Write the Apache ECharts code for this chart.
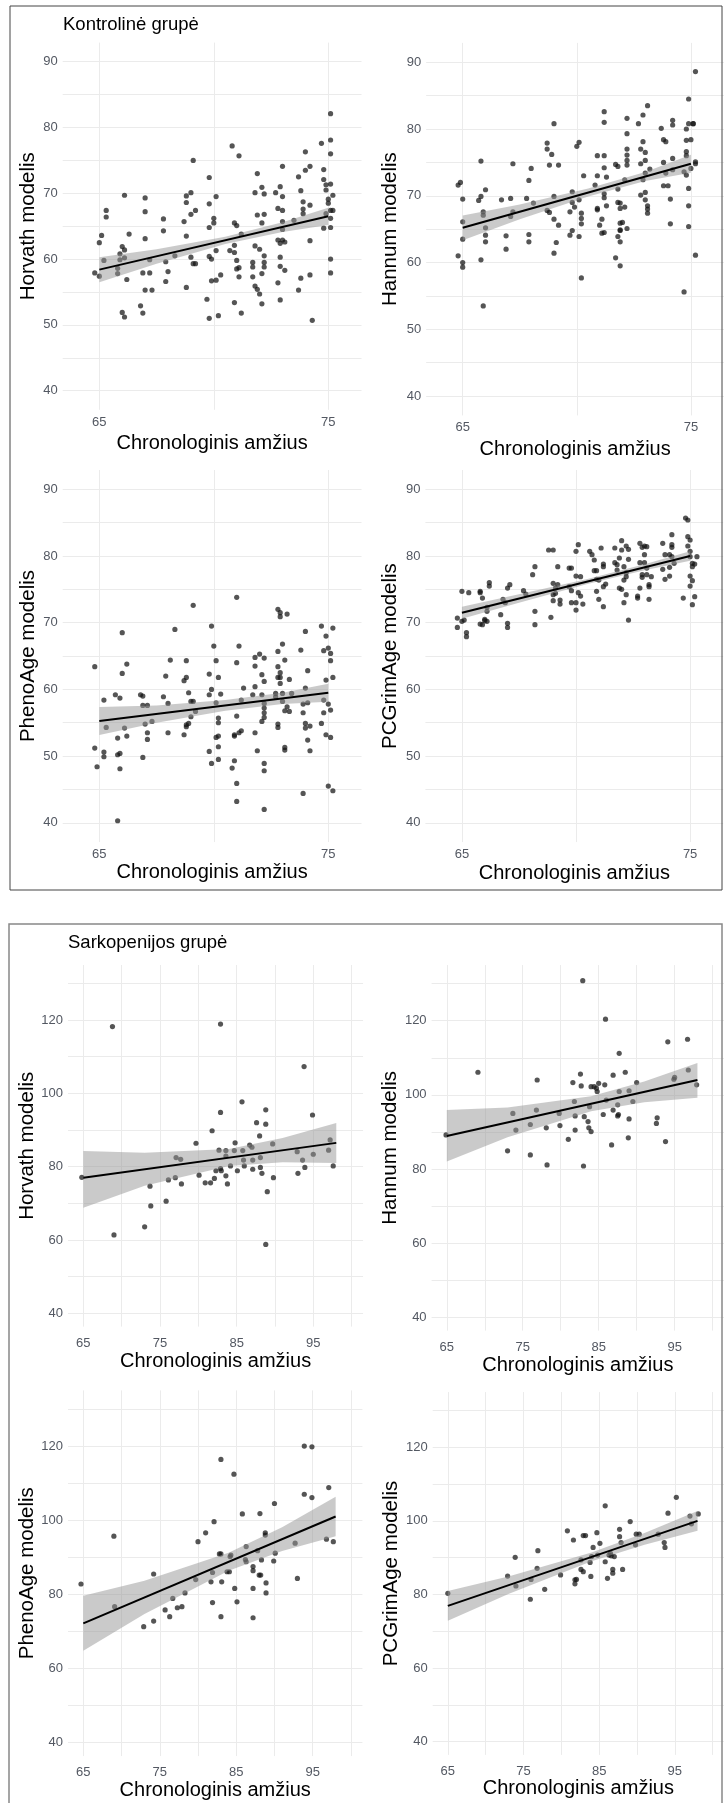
<!DOCTYPE html>
<html>
<head>
<meta charset="utf-8">
<script src="https://cdn.jsdelivr.net/npm/echarts@6/dist/echarts.min.js"></script>
<style>
html, body { margin: 0; padding: 0; background: #fff; }
#main { width: 724px; height: 1803px; }
</style>
</head>
<body>
<div id="main"></div>
<script>
// ---- Kontrolinė grupė: [amžius, modelio amžius] ----
var ctrlHorvath = [[64.8,57.9],[65.0,57.4],[65.1,63.6],[65.0,62.5],[65.3,67.4],[65.3,66.4],[65.2,59.8],[65.8,57.8],[65.8,58.6],[65.9,60.8],[65.9,59.9],[66.0,61.9],[66.1,61.4],[66.1,69.7],[66.1,60.2],[66.2,56.9],[66.3,63.8],[66.0,51.9],[66.1,51.2],[66.8,52.9],[66.9,51.8],[66.9,57.9],[67.2,57.9],[67.0,69.3],[67.0,67.2],[67.0,63.1],[67.0,55.3],[67.3,55.3],[67.2,59.9],[67.8,64.3],[67.8,66.1],[67.9,59.6],[68.0,58.1],[67.9,56.6],[68.3,60.5],[68.7,65.7],[68.8,63.5],[68.8,55.7],[68.8,69.6],[68.8,68.6],[69.0,70.1],[69.1,75.0],[69.0,66.8],[69.2,67.4],[69.0,60.3],[69.1,59.3],[69.2,59.3],[69.7,53.9],[69.8,68.4],[69.8,72.4],[69.8,64.8],[69.8,60.4],[69.9,60.0],[69.9,56.7],[69.8,51.0],[70.1,69.5],[70.0,65.5],[70.0,66.2],[70.1,61.3],[70.1,56.8],[70.2,51.4],[70.3,57.6],[70.8,77.2],[70.9,65.5],[70.7,61.3],[70.9,62.1],[70.9,61.0],[71.0,65.1],[71.1,75.7],[71.0,59.8],[71.0,58.5],[71.1,58.7],[70.9,53.4],[71.1,57.3],[71.2,51.8],[71.2,63.8],[71.8,70.1],[71.9,73.0],[71.9,66.7],[71.8,62.0],[72.0,61.5],[72.1,65.5],[72.1,70.9],[72.2,69.9],[72.2,66.8],[71.7,59.5],[71.7,58.8],[71.7,57.3],[71.8,55.9],[71.9,55.4],[72.0,54.7],[72.1,53.2],[72.1,57.8],[72.2,60.5],[72.2,58.8],[72.2,59.5],[72.7,70.1],[72.8,67.7],[72.9,71.0],[73.0,74.1],[73.0,69.5],[73.0,67.4],[72.8,62.9],[72.9,62.4],[73.0,62.9],[73.1,62.6],[73.0,65.7],[73.0,64.5],[72.9,60.3],[72.9,58.9],[73.1,58.3],[72.8,56.4],[72.9,53.8],[73.7,72.5],[73.8,70.4],[73.9,68.7],[73.9,67.6],[74.0,76.3],[74.0,73.5],[74.2,74.1],[74.2,68.2],[73.9,66.9],[74.2,62.8],[73.8,57.1],[73.7,55.3],[74.2,57.6],[74.3,50.7],[74.7,77.6],[74.8,73.6],[74.8,72.1],[74.9,71.3],[74.9,70.5],[75.1,82.1],[75.1,78.1],[75.1,76.0],[75.1,71.4],[75.0,69.1],[75.0,68.5],[75.2,69.7],[75.1,67.4],[75.2,67.4],[74.8,64.7],[74.9,66.9],[75.1,64.8],[75.1,66.2],[75.1,60.0],[75.1,57.9],[73.5,65.9]];
var ctrlHannum = [[64.8,61.0],[64.8,71.6],[64.9,72.0],[65.0,60.0],[65.0,59.3],[65.0,69.5],[65.0,66.1],[65.0,63.5],[65.8,75.2],[65.7,69.3],[65.8,69.9],[66.0,70.9],[65.9,67.6],[65.9,67.1],[66.0,65.2],[66.0,64.1],[66.0,63.1],[65.8,60.4],[65.9,53.5],[66.7,69.4],[66.9,64.0],[66.9,62.0],[67.1,69.6],[67.2,74.8],[67.1,66.9],[67.2,67.6],[67.8,69.6],[67.9,72.3],[68.0,74.1],[67.9,64.2],[67.9,63.1],[68.1,68.9],[68.7,77.9],[68.7,77.0],[68.9,76.2],[69.0,80.8],[68.8,74.6],[69.2,74.6],[68.7,67.8],[68.8,67.5],[69.0,69.9],[69.0,66.5],[69.2,65.6],[69.1,63.0],[69.0,61.4],[69.8,70.6],[69.8,69.0],[69.7,67.6],[69.9,68.3],[70.0,77.4],[70.1,78.0],[70.1,69.4],[70.3,73.0],[70.2,67.4],[70.2,66.6],[70.2,65.8],[69.7,64.1],[69.8,64.8],[70.1,63.9],[70.2,57.7],[70.8,71.6],[70.9,73.0],[70.9,76.0],[70.9,68.1],[70.9,67.9],[71.0,65.6],[71.1,66.5],[71.1,64.4],[71.2,64.5],[71.2,70.3],[71.2,69.7],[71.2,76.0],[71.2,74.2],[71.2,82.6],[71.2,81.0],[71.3,68.5],[71.3,72.8],[71.7,74.7],[71.8,74.4],[71.8,69.0],[71.9,68.9],[71.8,71.0],[71.9,68.1],[71.9,64.9],[71.9,64.8],[71.9,65.9],[71.8,63.9],[71.9,63.1],[71.7,60.7],[71.9,59.5],[72.0,66.0],[72.1,72.4],[72.2,81.6],[72.2,79.3],[72.2,77.0],[72.2,76.1],[72.2,75.3],[72.2,74.6],[72.1,68.3],[72.2,65.1],[72.7,80.8],[72.9,82.1],[72.9,78.1],[72.8,77.0],[73.0,76.5],[73.1,83.5],[72.8,74.8],[73.0,75.3],[72.8,70.1],[73.0,70.5],[73.0,73.4],[72.9,72.4],[73.0,69.4],[73.1,68.5],[73.1,68.0],[73.1,67.4],[73.2,74.0],[73.7,80.1],[73.8,78.4],[73.9,78.1],[73.8,75.0],[73.9,73.4],[73.8,71.5],[74.0,71.5],[74.1,69.5],[74.1,65.8],[74.2,81.3],[74.2,80.6],[74.2,75.6],[74.2,73.9],[74.7,55.6],[74.8,76.6],[74.8,76.0],[74.8,80.0],[74.9,80.8],[74.9,84.5],[74.8,78.3],[74.9,71.1],[74.9,68.5],[74.9,65.4],[74.8,73.1],[75.0,78.4],[75.1,80.8],[75.0,74.1],[75.1,80.8],[75.2,75.1],[75.2,74.8],[75.2,61.1],[75.2,88.6],[74.7,73.6]];
var ctrlPheno = [[64.8,63.4],[64.8,51.2],[64.9,48.4],[65.2,50.6],[65.2,49.9],[65.2,58.4],[65.3,54.3],[65.7,59.2],[65.9,58.7],[65.8,52.7],[65.8,50.2],[65.9,50.4],[65.9,48.1],[66.0,68.5],[66.0,62.4],[66.2,63.8],[66.1,54.2],[66.2,53.0],[65.8,40.3],[66.8,59.2],[66.9,59.0],[66.9,57.6],[67.1,57.6],[67.0,54.8],[67.1,53.5],[67.1,52.5],[67.3,55.2],[66.9,49.8],[67.8,58.9],[67.9,62.0],[68.1,64.4],[68.3,69.0],[68.0,57.9],[68.0,53.5],[68.7,53.2],[68.8,64.3],[68.8,61.8],[68.7,61.3],[68.9,59.5],[69.0,58.2],[69.1,58.2],[69.1,72.6],[69.0,55.9],[68.8,54.4],[68.8,54.7],[68.9,54.9],[69.2,56.7],[69.8,62.3],[69.8,59.2],[69.9,60.0],[69.9,69.5],[70.0,66.5],[69.8,50.7],[69.9,48.9],[70.1,58.0],[70.1,52.8],[70.1,64.3],[70.2,61.8],[70.2,55.7],[70.2,55.0],[70.2,53.0],[70.2,51.4],[70.2,49.5],[70.3,59.3],[70.8,48.2],[70.9,49.3],[71.0,73.8],[71.0,64.0],[70.9,53.0],[70.9,53.2],[71.0,56.0],[71.0,45.9],[71.0,43.2],[71.1,53.5],[71.1,66.5],[71.2,58.4],[71.3,60.2],[71.2,53.8],[71.8,64.8],[71.8,63.5],[71.8,60.4],[71.7,59.2],[71.8,53.5],[71.9,50.8],[72.0,65.3],[72.2,64.7],[72.1,62.2],[72.2,61.2],[72.2,57.9],[72.2,57.2],[72.2,56.5],[72.2,55.8],[72.2,48.9],[72.2,47.8],[72.2,42.0],[72.1,55.2],[72.1,59.2],[72.8,72.0],[72.9,71.5],[72.9,70.9],[73.0,66.8],[73.2,71.3],[72.8,65.7],[72.8,63.4],[72.9,62.5],[72.9,61.8],[72.8,61.8],[72.7,59.4],[72.9,60.9],[73.1,64.4],[73.3,61.5],[72.8,54.8],[72.8,54.3],[73.0,58.2],[73.1,56.8],[73.2,57.4],[73.3,56.7],[73.1,51.3],[73.1,50.9],[73.0,59.4],[73.8,65.9],[74.0,68.7],[74.1,62.8],[74.0,60.2],[73.9,56.5],[73.9,57.8],[74.0,54.9],[74.0,54.2],[74.1,52.4],[74.2,54.5],[74.2,50.8],[73.9,44.4],[74.1,58.0],[74.7,69.5],[74.9,68.0],[74.8,65.8],[74.8,56.5],[74.7,54.9],[74.9,61.4],[75.0,66.2],[75.1,65.4],[75.1,64.3],[74.9,53.2],[75.1,52.8],[75.0,57.8],[75.1,56.9],[75.2,69.2],[75.2,61.8],[75.0,45.5],[75.2,44.8],[74.8,58.4],[73.4,59.4],[72.7,58.9]];
var ctrlGrim = [[64.8,70.7],[64.8,69.3],[65.0,74.7],[65.0,70.2],[65.1,70.4],[65.2,68.5],[65.2,67.9],[65.3,74.5],[65.8,74.5],[65.8,74.7],[65.9,73.7],[65.8,69.8],[65.9,69.7],[66.0,70.5],[66.0,70.3],[66.1,70.2],[66.1,71.7],[66.1,72.3],[66.2,76.0],[66.2,75.5],[66.7,71.2],[66.8,73.5],[67.0,75.2],[67.1,75.7],[66.9,73.0],[67.0,69.9],[67.0,69.3],[67.7,74.8],[67.8,74.3],[68.1,77.2],[68.2,78.4],[68.2,71.7],[68.2,69.7],[68.8,80.9],[69.0,80.9],[68.9,70.8],[69.0,74.2],[69.0,73.3],[69.0,75.9],[69.1,75.2],[69.1,74.4],[69.2,78.4],[69.2,75.7],[69.3,73.4],[69.3,72.8],[69.7,78.2],[69.8,78.2],[69.7,75.4],[69.8,74.8],[69.8,73.0],[70.0,73.0],[70.0,71.9],[70.0,80.7],[70.1,81.7],[70.0,77.0],[70.2,76.9],[70.1,74.5],[70.2,74.0],[70.3,72.8],[70.6,80.7],[70.7,80.2],[70.8,79.4],[70.8,77.8],[70.9,76.5],[70.9,74.7],[70.9,77.8],[71.0,73.5],[71.1,81.2],[71.2,78.8],[71.2,78.4],[71.3,75.8],[71.2,75.4],[71.2,72.4],[71.0,76.4],[71.7,81.2],[71.7,79.0],[71.8,78.7],[71.8,77.9],[71.9,79.7],[72.0,82.3],[72.0,80.9],[71.9,75.2],[72.0,75.0],[72.1,73.0],[72.1,76.4],[72.1,78.4],[72.2,81.5],[72.3,81.0],[72.3,79.5],[72.2,76.9],[72.2,74.2],[72.3,70.4],[72.2,77.5],[72.7,74.0],[72.8,75.2],[72.8,81.9],[72.9,81.3],[72.8,79.0],[72.9,77.2],[72.9,76.8],[73.0,81.5],[73.1,81.4],[73.0,80.2],[73.1,78.2],[73.1,77.2],[73.2,75.7],[73.2,75.4],[73.2,73.5],[73.3,76.9],[73.0,79.0],[73.8,81.9],[73.8,78.0],[73.9,76.5],[73.9,80.2],[74.1,80.2],[74.1,78.3],[74.1,77.0],[74.2,83.2],[74.2,81.7],[74.2,81.3],[74.2,79.9],[74.3,78.9],[74.7,73.7],[74.8,85.7],[74.9,85.4],[74.9,82.9],[75.0,82.4],[75.0,80.7],[75.0,79.9],[75.1,78.9],[75.0,77.0],[75.1,76.3],[75.0,75.5],[75.1,72.7],[75.2,73.9],[75.3,79.9],[75.2,78.8],[75.1,78.4],[74.9,81.5],[72.7,73.7]];

// ---- Sarkopenijos grupė ----
var sarkHorvath = [[64.8,77.1],[68.8,118.2],[69.0,61.4],[73.0,63.6],[73.7,74.7],[73.8,69.3],[75.8,70.6],[76.1,76.4],[77.0,77.0],[77.1,82.5],[77.7,82.0],[77.8,75.3],[79.7,86.4],[80.1,77.7],[80.9,75.6],[81.6,75.6],[81.8,89.8],[82.1,76.8],[82.3,78.9],[82.7,84.5],[82.9,118.9],[82.9,94.8],[82.9,79.5],[83.0,78.9],[83.6,84.4],[83.6,82.9],[83.6,77.5],[83.8,75.3],[84.2,80.2],[84.7,84.4],[84.8,86.5],[85.1,78.9],[85.7,97.7],[85.8,84.4],[85.9,81.8],[86.0,80.2],[86.7,85.9],[87.0,85.3],[87.1,81.8],[87.1,79.3],[87.6,92.0],[88.0,88.4],[88.1,82.5],[88.1,79.8],[88.3,78.2],[88.8,95.5],[88.8,91.6],[88.8,58.8],[89.0,73.2],[89.7,86.2],[89.8,77.0],[92.9,84.1],[93.0,78.2],[93.6,81.8],[93.8,107.3],[93.9,79.8],[94.9,94.1],[95.0,83.4],[97.0,84.5],[97.2,87.3],[97.6,80.2]];
var sarkHannum = [[64.9,89.2],[69.1,106.1],[73.0,84.9],[73.7,95.0],[74.1,90.5],[76.0,83.8],[76.0,92.0],[76.8,95.9],[76.9,104.0],[78.1,91.1],[78.2,81.1],[79.8,95.0],[79.9,91.7],[81.0,88.0],[81.6,103.3],[81.8,98.2],[81.9,94.3],[81.9,90.5],[82.6,105.6],[82.7,102.4],[82.9,130.8],[83.0,80.8],[83.1,94.1],[83.6,92.8],[83.7,91.1],[83.8,96.8],[84.0,90.1],[84.0,102.2],[84.4,102.2],[84.7,101.8],[84.8,100.9],[85.0,103.1],[85.6,94.7],[85.8,102.7],[85.9,120.4],[86.0,98.6],[86.7,86.5],[86.9,95.9],[86.9,105.3],[87.5,97.3],[87.5,94.3],[87.6,94.7],[87.7,100.9],[87.7,111.2],[88.5,106.1],[88.9,88.4],[89.0,93.5],[89.0,101.1],[89.5,98.2],[90.0,103.3],[92.6,92.3],[92.7,93.8],[93.8,87.4],[94.1,114.3],[94.9,104.2],[95.0,104.7],[96.7,115.0],[96.8,106.7],[97.9,102.7]];
var sarkPheno = [[64.7,82.8],[69.0,95.7],[69.1,76.7],[72.9,71.3],[74.2,85.5],[74.2,72.8],[75.7,75.8],[76.3,74.0],[76.7,78.9],[77.3,76.4],[77.9,76.7],[78.3,80.4],[79.7,84.0],[80.0,94.2],[81.0,96.6],[81.7,83.4],[81.9,85.9],[81.9,77.8],[82.1,99.6],[82.8,90.9],[83.0,90.9],[83.0,116.4],[83.1,83.4],[83.0,74.0],[83.8,86.1],[84.1,86.1],[84.2,90.2],[84.3,90.6],[84.7,112.4],[84.8,81.6],[85.1,78.0],[85.8,101.7],[86.2,89.4],[86.3,92.9],[86.3,88.8],[87.2,87.5],[87.2,86.4],[87.2,81.6],[87.2,73.7],[87.8,91.8],[88.0,85.2],[88.2,85.2],[88.1,101.8],[88.3,89.3],[88.8,96.6],[88.8,96.0],[88.9,83.1],[88.9,80.4],[89.9,89.0],[90.1,91.1],[90.0,104.5],[92.7,93.8],[93.0,84.3],[93.9,120.0],[93.9,107.0],[94.9,119.8],[94.9,106.1],[96.8,94.9],[97.1,108.8],[97.7,94.2]];
var sarkGrim = [[65.0,80.3],[72.9,85.0],[73.9,90.1],[74.0,82.3],[75.9,78.7],[76.0,84.1],[76.8,87.1],[76.9,91.9],[77.8,81.4],[79.9,85.3],[80.8,97.3],[81.6,94.8],[81.8,84.0],[81.8,82.9],[82.0,84.1],[82.6,89.4],[82.6,86.8],[82.9,86.2],[82.9,96.0],[83.2,96.0],[83.8,88.7],[83.9,84.9],[84.0,90.3],[84.2,92.8],[84.7,96.8],[84.8,90.7],[85.1,93.9],[85.8,104.1],[85.8,88.9],[86.1,84.4],[86.3,90.7],[86.5,91.2],[86.6,90.5],[86.8,86.8],[86.8,85.8],[87.0,90.3],[87.7,97.7],[87.7,95.7],[87.9,94.1],[88.1,86.8],[89.1,99.8],[89.8,93.5],[89.9,96.4],[90.3,96.4],[92.8,96.4],[93.6,94.1],[93.7,92.8],[94.1,102.1],[95.2,106.4],[97.0,101.3],[97.2,99.2],[98.1,101.9]];

// tiesinė regresija (galai) ir pasikliautinoji juosta
var ctrlBandX = [65, 67.5, 70.5, 73, 75];
var ctrlHorvathFit = [[65, 58.4], [75, 66.5]];
var ctrlHorvathLo = [56.5, 59.3, 62.3, 64.1, 65.2];
var ctrlHorvathHi = [60.3, 61.5, 63.4, 65.6, 67.8];
var ctrlHannumFit = [[65, 65.2], [75, 74.8]];
var ctrlHannumLo = [63.35, 66.5, 69.9, 72.2, 73.45];
var ctrlHannumHi = [67.05, 68.7, 71.1, 73.55, 76.15];
var ctrlPhenoFit = [[65, 55.25], [75, 59.5]];
var ctrlPhenoLo = [53.15, 55.0, 56.8, 57.8, 58.15];
var ctrlPhenoHi = [57.35, 57.6, 58.4, 59.5, 60.85];
var ctrlGrimFit = [[65, 71.5], [75, 80.0]];
var ctrlGrimLo = [70.6, 73.0, 75.8, 77.85, 79.3];
var ctrlGrimHi = [72.4, 74.25, 76.55, 78.75, 80.7];

var sarkBandX = [65, 73, 84, 91, 98];
var sarkHorvathFit = [[65, 77.0], [98, 86.5]];
var sarkHorvathLo = [68.8, 74.8, 80.2, 81.2, 81.0];
var sarkHorvathHi = [84.3, 83.8, 84.8, 87.8, 91.9];
var sarkHannumFit = [[65, 88.9], [98, 104.0]];
var sarkHannumLo = [82.0, 88.56, 95.6, 98.0, 99.2];
var sarkHannumHi = [95.9, 96.56, 99.6, 103.6, 108.6];
var sarkPhenoFit = [[65, 72.2], [98, 101.0]];
var sarkPhenoLo = [64.8, 74.7, 86.4, 91.7, 95.65];
var sarkPhenoHi = [79.6, 83.7, 91.2, 98.1, 106.35];
var sarkGrimFit = [[65, 76.9], [98, 100.0]];
var sarkGrimLo = [72.85, 80.1, 89.0, 93.5, 97.3];
var sarkGrimHi = [80.95, 84.9, 91.4, 96.7, 102.7];

// ašių žymės
var ctrlXLabels = [65, 75];
var ctrlXGrid = [65, 70, 75];
var ctrlYLabels = [40, 50, 60, 70, 80, 90];
var ctrlYGrid = [40, 45, 50, 55, 60, 65, 70, 75, 80, 85, 90];
var sarkXLabels = [65, 75, 85, 95];
var sarkXGrid = [65, 70, 75, 80, 85, 90, 95, 100];
var sarkYLabels = [40, 60, 80, 100, 120];
var sarkYGrid = [40, 50, 60, 70, 80, 90, 100, 110, 120, 130];

var FONT = 'Liberation Sans, Arial, sans-serif';
var ctrlScale = { x: [63.4, 76.45], y: [37.1, 92.9], xl: ctrlXLabels, xg: ctrlXGrid, yl: ctrlYLabels, yg: ctrlYGrid, bx: ctrlBandX, lm: 6 };
var sarkScale = { x: [63.0, 101.5], y: [36.4, 135.0], xl: sarkXLabels, xg: sarkXGrid, yl: sarkYLabels, yg: sarkYGrid, bx: sarkBandX, lm: 10 };

// rect: [kairė, viršus, dešinė, apačia]
var panels = [
    { s: ctrlScale, pts: ctrlHorvath, fit: ctrlHorvathFit, lo: ctrlHorvathLo, hi: ctrlHorvathHi, name: 'Horvath modelis', rect: [62.7, 42.6, 361.5, 409.8], gx: 24, gy: 24 },
    { s: ctrlScale, pts: ctrlHannum, fit: ctrlHannumFit, lo: ctrlHannumLo, hi: ctrlHannumHi, name: 'Hannum modelis', rect: [426.2, 42.9, 724.1, 415.4], gx: 24, gy: 25 },
    { s: ctrlScale, pts: ctrlPheno, fit: ctrlPhenoFit, lo: ctrlPhenoLo, hi: ctrlPhenoHi, name: 'PhenoAge modelis', rect: [62.7, 470.0, 361.5, 842.1], gx: 20, gy: 24 },
    { s: ctrlScale, pts: ctrlGrim, fit: ctrlGrimFit, lo: ctrlGrimLo, hi: ctrlGrimHi, name: 'PCGrimAge modelis', rect: [425.4, 470.0, 723.2, 842.1], gx: 21, gy: 25 },
    { s: sarkScale, pts: sarkHorvath, fit: sarkHorvathFit, lo: sarkHorvathLo, hi: sarkHorvathHi, name: 'Horvath modelis', rect: [68.0, 965.0, 363.1, 1326.6], gx: 25, gy: 29 },
    { s: sarkScale, pts: sarkHannum, fit: sarkHannumFit, lo: sarkHannumLo, hi: sarkHannumHi, name: 'Hannum modelis', rect: [431.6, 965.1, 728.0, 1330.6], gx: 25, gy: 30 },
    { s: sarkScale, pts: sarkPheno, fit: sarkPhenoFit, lo: sarkPhenoLo, hi: sarkPhenoHi, name: 'PhenoAge modelis', rect: [68.0, 1390.4, 362.4, 1756.1], gx: 24, gy: 29 },
    { s: sarkScale, pts: sarkGrim, fit: sarkGrimFit, lo: sarkGrimLo, hi: sarkGrimHi, name: 'PCGrimAge modelis', rect: [432.7, 1392.1, 726.6, 1754.9], gx: 24, gy: 30 }
];

var chart = echarts.init(document.getElementById('main'));
var grids = [], xAxes = [], yAxes = [], series = [];

panels.forEach(function (p, i) {
    var r = p.rect;
    grids.push({ left: r[0], top: r[1], width: r[2] - r[0], height: r[3] - r[1], containLabel: false });
    xAxes.push({
        gridIndex: i, type: 'value', min: p.s.x[0], max: p.s.x[1],
        name: 'Chronologinis amžius', nameLocation: 'middle', nameGap: p.gx,
        nameTextStyle: { fontSize: 20, color: '#000', fontFamily: FONT },
        axisLine: { show: false },
        axisTick: { show: false, customValues: p.s.xg },
        axisLabel: { customValues: p.s.xl, margin: p.s.lm, fontSize: 13, color: '#535862', fontFamily: FONT },
        splitLine: { show: true, lineStyle: { color: '#ebebeb', width: 1 } }
    });
    yAxes.push({
        gridIndex: i, type: 'value', min: p.s.y[0], max: p.s.y[1],
        name: p.name, nameLocation: 'middle', nameGap: p.gy,
        nameTextStyle: { fontSize: 20.5, color: '#000', fontFamily: FONT },
        axisLine: { show: false },
        axisTick: { show: false, customValues: p.s.yg },
        axisLabel: { customValues: p.s.yl, margin: 5, fontSize: 13, color: '#535862', fontFamily: FONT },
        splitLine: { show: true, lineStyle: { color: '#ebebeb', width: 1 } }
    });
    series.push({
        type: 'scatter', xAxisIndex: i, yAxisIndex: i, data: p.pts,
        symbolSize: 5.2, itemStyle: { color: 'rgba(20,20,20,0.9)' }, z: 2, silent: true
    });
    var bx = p.s.bx, lo = p.lo, hi = p.hi;
    series.push({
        type: 'custom', xAxisIndex: i, yAxisIndex: i, data: [[bx[0], lo[0]]], z: 3, silent: true,
        renderItem: function (params, api) {
            var poly = [];
            for (var k = 0; k < bx.length; k++) poly.push(api.coord([bx[k], hi[k]]));
            for (var m = bx.length - 1; m >= 0; m--) poly.push(api.coord([bx[m], lo[m]]));
            return { type: 'polygon', shape: { points: poly }, style: { fill: 'rgba(150,150,150,0.5)' } };
        }
    });
    series.push({
        type: 'line', xAxisIndex: i, yAxisIndex: i, data: p.fit, showSymbol: false, z: 4, silent: true,
        lineStyle: { color: '#000', width: 2 }
    });
});

var option = {
    animation: false,
    backgroundColor: '#fff',
    grid: grids,
    xAxis: xAxes,
    yAxis: yAxes,
    series: series,
    graphic: [
        { type: 'rect', shape: { x: 10, y: 6, width: 712, height: 884 }, style: { fill: 'none', stroke: '#444', lineWidth: 1 }, z: 10 },
        { type: 'rect', shape: { x: 9, y: 924, width: 713, height: 900 }, style: { fill: 'none', stroke: '#888', lineWidth: 1.5 }, z: 10 },
        { type: 'text', left: 63, top: 15, style: { text: 'Kontrolinė grupė', fontSize: 18.5, fill: '#000', fontFamily: FONT } },
        { type: 'text', left: 68, top: 933, style: { text: 'Sarkopenijos grupė', fontSize: 18.5, fill: '#000', fontFamily: FONT } }
    ]
};

option && chart.setOption(option);
</script>
</body>
</html>
